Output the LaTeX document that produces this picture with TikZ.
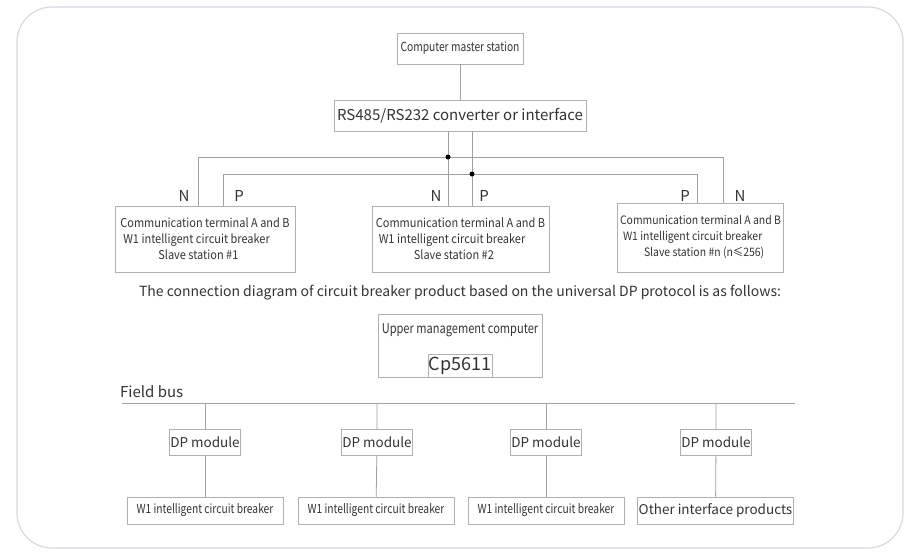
\documentclass[tikz,border=0pt]{standalone}
\usepackage{fontspec}
\setmainfont{Noto Sans CJK SC}
\newfontfamily\condfont{Noto Sans CJK SC}[FakeStretch=0.82]
\newfontfamily\semifont{Noto Sans CJK SC}[FakeStretch=0.9]
\usetikzlibrary{positioning}
\definecolor{framegray}{HTML}{D6D9E0}
\definecolor{boxgray}{HTML}{B0B0B0}
\definecolor{linegray}{HTML}{A0A0A0}
\definecolor{textgray}{HTML}{333333}
\newcommand{\fsz}[2]{\fontsize{#1}{#2}\selectfont}
\tikzset{box/.style={draw=boxgray,line width=.9pt,inner sep=0pt,text=textgray}}
\tikzset{slavebox/.style={box,align=left,inner xsep=2pt,font=\semifont\fsz{12.2}{16}}}
\tikzset{wire/.style={draw=linegray,line width=.8pt}}
\tikzset{jdot/.style={circle,fill=black,inner sep=0pt,minimum size=5pt}}
\tikzset{lbl/.style={text=textgray,font=\fsz{15}{18}}}

\begin{document}
\begin{tikzpicture}[x=1pt,y=-1pt]
\useasboundingbox(0,0)rectangle(904,555);
\draw[framegray,line width=1.2pt,rounded corners=35pt](17,7)rectangle(903,548);
\node(master)[box,minimum width=126pt,minimum height=31pt,font=\condfont\fsz{12.5}{15}]at(460,48.5){Computer master station};
\node(conv)[box,minimum width=252pt,minimum height=31pt,font=\fsz{15}{18}]at(460,115.5){RS485/RS232 converter or interface};
\draw[wire](master)--(conv);
\coordinate(n1)at(198,157);\coordinate(nj)at(448,157);\coordinate(nn)at(723,157);
\coordinate(p1)at(223,174);\coordinate(pj)at(472,174);\coordinate(pn)at(697,174);
\node(s1)[slavebox,minimum width=180pt,minimum height=66pt]at(205,239){Communication terminal A and B\\\hspace*{3pt}W1 intelligent circuit breaker\\\hspace*{38pt}Slave station \#1};
\node(s2)[slavebox,minimum width=177pt,minimum height=66pt]at(460.5,239){Communication terminal A and B\\\hspace*{3pt}W1 intelligent circuit breaker\\\hspace*{38pt}Slave station \#2};
\node(sn)[slavebox,minimum width=166pt,minimum height=69pt,font=\semifont\fsz{11.6}{16}]at(700.5,237.5){Communication terminal A and B\\\hspace*{3pt}W1 intelligent circuit breaker\\\hspace*{24pt}Slave station \#n (n≤256)};
\draw[wire](s1.north-|n1)--(n1)--(nn)--(sn.north-|nn);
\draw[wire](s1.north-|p1)--(p1)--(pn)--(sn.north-|pn);
\draw[wire](conv.south-|nj)--(s2.north-|nj);
\draw[wire](conv.south-|pj)--(s2.north-|pj);
\node(njd)[jdot]at(nj){};\node(pjd)[jdot]at(pj){};
\node(s1n)[lbl]at(184,196){N};\node(s1p)[lbl]at(239,196){P};
\node(s2n)[lbl]at(436,196){N};\node(s2p)[lbl]at(484,196){P};
\node(snp)[lbl]at(685,196){P};\node(snn)[lbl]at(740,196){N};
\node(title)[text=textgray,font=\fsz{14}{16}]at(460,293){The connection diagram of circuit breaker product based on the universal DP protocol is as follows:};
\node(upper)[box,minimum width=164pt,minimum height=63pt]at(460,345.5){};
\node(uptxt)[text=textgray,font=\condfont\fsz{13.5}{16}]at(460,330){Upper management computer};
\node(cp)[box,minimum width=64pt,minimum height=23pt,font=\fsz{18}{20}]at(460,365.5){Cp5611};
\node(fb)[lbl,anchor=west,inner sep=0pt]at(120,392){Field bus};
\coordinate(busl)at(122,403);\coordinate(busr)at(795,403);
\draw[wire](busl)--(busr);
\begin{scope}[minimum height=26pt,font=\fsz{13.5}{16}]
\node(dp1)[box,minimum width=71pt]at(205,442.5){DP module};
\node(dp2)[box,minimum width=71pt]at(377,442.5){DP module};
\node(dp3)[box,minimum width=71pt]at(546,442.5){DP module};
\node(dp4)[box,minimum width=71pt]at(716,442.5){DP module};
\end{scope}
\begin{scope}[minimum height=27pt,minimum width=156pt]
\node(cb1)[box,font=\condfont\fsz{12.5}{14}]at(205,510.5){W1 intelligent circuit breaker};
\node(cb2)[box,font=\condfont\fsz{12.5}{14}]at(376,510.5){W1 intelligent circuit breaker};
\node(cb3)[box,font=\condfont\fsz{12.5}{14}]at(546,510.5){W1 intelligent circuit breaker};
\node(other)[box,font=\fsz{13.5}{15}]at(715.5,510.5){Other interface products};
\end{scope}
\draw[wire](dp1|-busl)--(dp1)--(cb1);\draw[wire](dp2|-busl)--(dp2)--(cb2);
\draw[wire](dp3|-busl)--(dp3)--(cb3);\draw[wire](dp4|-busl)--(dp4)--(other);
\end{tikzpicture}
\end{document}
